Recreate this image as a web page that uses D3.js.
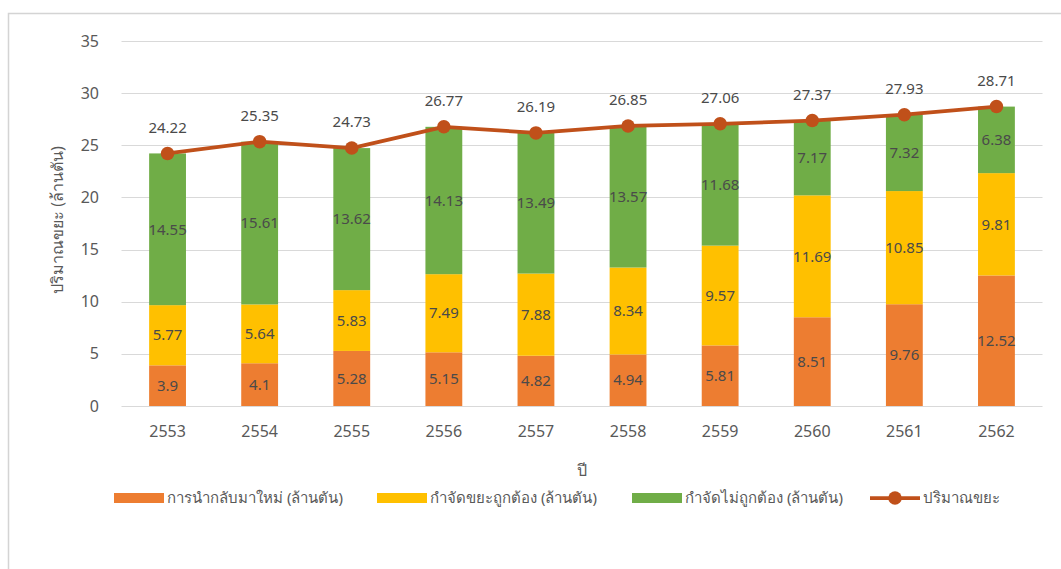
<!DOCTYPE html>
<html>
<head>
<meta charset="utf-8">
<script src="https://cdn.jsdelivr.net/npm/d3@7"></script>
<style>
  html, body { margin: 0; padding: 0; background: #ffffff; }
  svg { display: block; }
  text { font-family: "Noto Sans", "Open Sans", sans-serif; }
</style>
</head>
<body>
<svg id="chart" width="1061" height="569"></svg>
<script>
const years = ["2553","2554","2555","2556","2557","2558","2559","2560","2561","2562"];
const recycled = [3.9, 4.1, 5.28, 5.15, 4.82, 4.94, 5.81, 8.51, 9.76, 12.52];
const properDisposal = [5.77, 5.64, 5.83, 7.49, 7.88, 8.34, 9.57, 11.69, 10.85, 9.81];
const improperDisposal = [14.55, 15.61, 13.62, 14.13, 13.49, 13.57, 11.68, 7.17, 7.32, 6.38];
const totalWaste = [24.22, 25.35, 24.73, 26.77, 26.19, 26.85, 27.06, 27.37, 27.93, 28.71];
const yTicks = [0, 5, 10, 15, 20, 25, 30, 35];
const seriesNames = ["การนำกลับมาใหม่ (ล้านตัน)", "กำจัดขยะถูกต้อง (ล้านตัน)", "กำจัดไม่ถูกต้อง (ล้านตัน)", "ปริมาณขยะ"];
const yTitle = "ปริมาณขยะ (ล้านตัน)";
const xTitle = "ปี";

const colors = ["#ED7D31", "#FFC000", "#70AD47", "#C0501A"];
const svg = d3.select("#chart");

// frame
svg.append("rect").attr("x", 8.5).attr("y", 13.5).attr("width", 1100).attr("height", 600)
  .attr("fill", "#fff").attr("stroke", "#d4d4d4").attr("stroke-width", 1.5);

const x = d3.scaleBand().domain(years).range([121.5, 1042.5]).padding(0);
const y = d3.scaleLinear().domain([0, 35]).range([406, 41]);
const bw = x.bandwidth() * 0.4;

// gridlines
svg.append("g").selectAll("line").data(yTicks).join("line")
  .attr("x1", x.range()[0]).attr("x2", x.range()[1])
  .attr("y1", d => Math.round(y(d)) + 0.5).attr("y2", d => Math.round(y(d)) + 0.5)
  .attr("stroke", "#d9d9d9").attr("stroke-width", 1);

// y axis labels
const yAxis = d3.axisLeft(y).tickValues(yTicks).tickSize(0).tickPadding(0);
const yg = svg.append("g").attr("transform", "translate(99,0)").call(yAxis);
yg.select(".domain").remove();
yg.selectAll("text").attr("fill", "#595959").style("font-size", "16px").style("font-family", "'Noto Sans', sans-serif");

// x axis labels
const xAxis = d3.axisBottom(x).tickSize(0).tickPadding(0);
const xg = svg.append("g").attr("transform", "translate(0,426)").call(xAxis);
xg.select(".domain").remove();
xg.selectAll("text").attr("fill", "#595959").style("font-size", "16px").style("font-family", "'Noto Sans', sans-serif");

// stacked data
const rows = years.map((yr, i) => ({ year: yr, a: recycled[i], b: properDisposal[i], c: improperDisposal[i] }));
const stack = d3.stack().keys(["a", "b", "c"])(rows);

const gBars = svg.append("g");
stack.forEach((layer, li) => {
  gBars.append("g").selectAll("rect").data(layer).join("rect")
    .attr("x", d => x(d.data.year) + (x.bandwidth() - bw) / 2)
    .attr("width", bw)
    .attr("y", d => y(d[1]))
    .attr("height", d => y(d[0]) - y(d[1]))
    .attr("fill", colors[li]);
});
// segment labels
stack.forEach((layer, li) => {
  gBars.append("g").selectAll("text").data(layer).join("text")
    .attr("x", d => x(d.data.year) + x.bandwidth() / 2)
    .attr("y", d => y((d[0] + d[1]) / 2))
    .attr("dy", "0.35em")
    .attr("text-anchor", "middle")
    .attr("fill", "#4a4a4a")
    .style("font-size", "15px")
    .text(d => d3.format("")(+(d[1] - d[0]).toFixed(2)));
});

// total line
const cx = d => x(d) + x.bandwidth() / 2;
const line = d3.line().x((d, i) => cx(years[i])).y(d => y(d));
svg.append("path").datum(totalWaste).attr("d", line)
  .attr("fill", "none").attr("stroke", colors[3]).attr("stroke-width", 3.75).attr("stroke-linejoin", "round");
svg.append("g").selectAll("circle").data(totalWaste).join("circle")
  .attr("cx", (d, i) => cx(years[i])).attr("cy", d => y(d)).attr("r", 6.75)
  .attr("fill", colors[3]);
svg.append("g").selectAll("text").data(totalWaste).join("text")
  .attr("x", (d, i) => cx(years[i])).attr("y", d => y(d) - 26)
  .attr("dy", "0.35em").attr("text-anchor", "middle")
  .attr("fill", "#4a4a4a").style("font-size", "15px")
  .text(d => d3.format(".2f")(d));

// axis titles
svg.append("text").attr("transform", "translate(57,220) rotate(-90)")
  .attr("text-anchor", "middle").attr("dy", "0.35em")
  .attr("fill", "#595959").style("font-size", "16px").text(yTitle);
svg.append("text").attr("x", 582).attr("y", 470).attr("text-anchor", "middle").attr("dy", "0.35em")
  .attr("fill", "#595959").style("font-size", "16px").text(xTitle);

// legend
const legX = [114, 377, 632, 870];
const legY = 498;
const lg = svg.append("g");
seriesNames.forEach((name, i) => {
  if (i < 3) {
    lg.append("rect").attr("x", legX[i]).attr("y", legY - 5).attr("width", 50).attr("height", 10).attr("fill", colors[i]);
  } else {
    lg.append("line").attr("x1", legX[i]).attr("x2", legX[i] + 50).attr("y1", legY).attr("y2", legY)
      .attr("stroke", colors[3]).attr("stroke-width", 3.75);
    lg.append("circle").attr("cx", legX[i] + 25).attr("cy", legY).attr("r", 6.75).attr("fill", colors[3]);
  }
  lg.append("text").attr("x", legX[i] + 53).attr("y", legY).attr("dy", "0.35em")
    .attr("fill", "#595959").style("font-size", "15px").text(name);
});
</script>
</body>
</html>
